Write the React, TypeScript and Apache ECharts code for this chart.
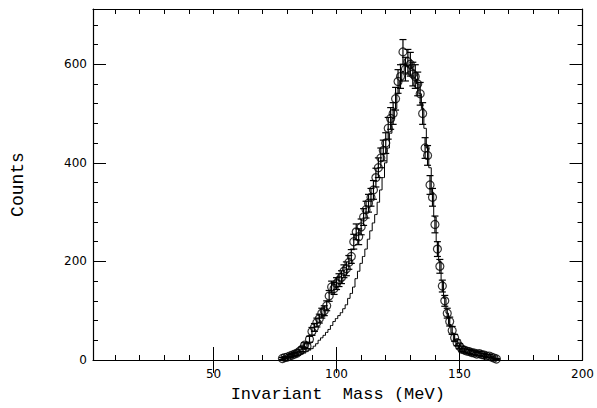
import React, { useEffect, useRef } from "react";
import * as echarts from "echarts";

// Invariant mass bin centres (MeV)
const mass = [
  78, 79, 80, 81, 82, 83, 84, 85, 86, 87,
  88, 89, 90, 91, 92, 93, 94, 95, 96, 97,
  98, 99, 100, 101, 102, 103, 104, 105, 106, 107,
  108, 109, 110, 111, 112, 113, 114, 115, 116, 117,
  118, 119, 120, 121, 122, 123, 124, 125, 126, 127,
  128, 129, 130, 131, 132, 133, 134, 135, 136, 137,
  138, 139, 140, 141, 142, 143, 144, 145, 146, 147,
  148, 149, 150, 151, 152, 153, 154, 155, 156, 157,
  158, 159, 160, 161, 162, 163, 164, 165,
];

// Measured counts (open circles)
const counts = [
  3, 5, 6, 8, 10, 12, 14, 18, 22, 30,
  28, 42, 58, 66, 76, 84, 95, 100, 110, 130,
  148, 145, 155, 162, 168, 180, 185, 198, 210, 240,
  260, 250, 270, 290, 305, 318, 330, 345, 370, 390,
  410, 425, 440, 470, 490, 500, 530, 565, 575, 625,
  590, 605, 600, 580, 575, 560, 540, 500, 430, 415,
  355, 330, 275, 225, 190, 150, 120, 95, 78, 60,
  45, 35, 28, 22, 20, 18, 17, 15, 14, 12,
  13, 11, 10, 8, 8, 6, 4, 2,
];

// Error bar half-lengths
const errors = [
  2, 2, 2, 3, 3, 3, 4, 4, 5, 5,
  5, 6, 8, 8, 9, 9, 10, 10, 10, 11,
  12, 12, 12, 13, 13, 13, 14, 14, 14, 15,
  16, 16, 16, 17, 17, 18, 18, 19, 19, 20,
  20, 21, 21, 22, 22, 22, 23, 24, 24, 25,
  24, 25, 24, 24, 24, 24, 23, 22, 21, 20,
  19, 18, 17, 15, 14, 12, 11, 10, 9, 8,
  7, 6, 5, 5, 4, 4, 4, 4, 4, 3,
  4, 3, 3, 3, 3, 2, 2, 1,
];

// Simulated histogram (step line)
const simulated = [
  2, 3, 4, 5, 6, 7, 8, 10, 12, 14,
  17, 20, 23, 28, 33, 40, 45, 50, 56, 62,
  70, 78, 84, 90, 96, 104, 112, 125, 135, 148,
  165, 180, 196, 210, 225, 245, 262, 278, 295, 320,
  345, 370, 400, 430, 460, 490, 510, 540, 565, 585,
  600, 595, 600, 590, 570, 560, 540, 510, 470, 430,
  390, 340, 290, 240, 200, 160, 125, 95, 72, 55,
  40, 30, 24, 20, 17, 15, 13, 12, 11, 10,
  9, 8, 7, 6, 5, 4, 3, 2,
];

const xMinorTicks = [10, 20, 30, 40, 50, 60, 70, 80, 90, 100, 110, 120, 130, 140, 150, 160, 170, 180, 190];
const xMajorTicks = [50, 100, 150];
const xLabels = [50, 100, 150, 200];
const yMinorTicks = [40, 80, 120, 160, 200, 240, 280, 320, 360, 400, 440, 480, 520, 560, 600, 640, 680];
const yMajorTicks = [200, 400, 600];
const yLabels = [0, 200, 400, 600];

const X_MIN = 1;
const X_MAX = 200;
const Y_MIN = 0;
const Y_MAX = 712;

export default function App() {
  const ref = useRef<HTMLDivElement>(null);

  useEffect(() => {
    if (!ref.current) return;
    const chart = echarts.init(ref.current, null, { renderer: "svg" });
    const black = "#000";
    const labelFont = { color: black, fontFamily: "DejaVu Sans", fontSize: 12 };
    const titleFont = { color: black, fontFamily: "Liberation Mono", fontSize: 17 };

    const xBase = { type: "value", min: X_MIN, max: X_MAX, splitLine: { show: false } };
    const yBase = { type: "value", min: Y_MIN, max: Y_MAX, splitLine: { show: false } };

    const xAxes: any[] = [
      {
        ...xBase,
        position: "bottom",
        axisLine: { show: true, onZero: false, lineStyle: { color: black, width: 1.2 } },
        axisTick: { show: true, inside: true, length: 5, customValues: xMinorTicks, lineStyle: { color: black } },
        axisLabel: { show: true, customValues: xLabels, margin: 8, ...labelFont },
        name: "Invariant  Mass (MeV)",
        nameLocation: "middle",
        nameGap: 26,
        nameTextStyle: titleFont,
      },
      {
        ...xBase,
        position: "bottom",
        axisLine: { show: false },
        axisTick: { show: true, inside: true, length: 13, customValues: xMajorTicks, lineStyle: { color: black } },
        axisLabel: { show: false },
      },
      {
        ...xBase,
        position: "top",
        axisLine: { show: true, onZero: false, lineStyle: { color: black, width: 1.2 } },
        axisTick: { show: true, inside: true, length: 5, customValues: xMinorTicks, lineStyle: { color: black } },
        axisLabel: { show: false },
      },
      {
        ...xBase,
        position: "top",
        axisLine: { show: false },
        axisTick: { show: true, inside: true, length: 13, customValues: xMajorTicks, lineStyle: { color: black } },
        axisLabel: { show: false },
      },
    ];

    const yAxes: any[] = [
      {
        ...yBase,
        position: "left",
        axisLine: { show: true, onZero: false, lineStyle: { color: black, width: 1.2 } },
        axisTick: { show: true, inside: true, length: 5, customValues: yMinorTicks, lineStyle: { color: black } },
        axisLabel: { show: true, customValues: yLabels, margin: 6, ...labelFont },
        name: "Counts",
        nameLocation: "middle",
        nameGap: 66,
        nameRotate: 90,
        nameTextStyle: { ...titleFont, fontSize: 18 },
      },
      {
        ...yBase,
        position: "left",
        axisLine: { show: false },
        axisTick: { show: true, inside: true, length: 13, customValues: yMajorTicks, lineStyle: { color: black } },
        axisLabel: { show: false },
      },
      {
        ...yBase,
        position: "right",
        axisLine: { show: true, onZero: false, lineStyle: { color: black, width: 1.2 } },
        axisTick: { show: true, inside: true, length: 5, customValues: yMinorTicks, lineStyle: { color: black } },
        axisLabel: { show: false },
      },
      {
        ...yBase,
        position: "right",
        axisLine: { show: false },
        axisTick: { show: true, inside: true, length: 13, customValues: yMajorTicks, lineStyle: { color: black } },
        axisLabel: { show: false },
      },
    ];

    const pointData = mass.map((m, i) => [m, counts[i]]);
    const errData = mass.map((m, i) => [m, counts[i], errors[i]]);
    const histData = mass.map((m, i) => [m, simulated[i]]);

    chart.setOption({
      animation: false,
      backgroundColor: "#fff",
      grid: { left: 93, top: 9, width: 491, height: 351, containLabel: false },
      xAxis: xAxes,
      yAxis: yAxes,
      series: [
        {
          type: "line",
          name: "simulation",
          data: histData,
          step: "middle",
          showSymbol: false,
          symbol: "none",
          lineStyle: { color: black, width: 1 },
          xAxisIndex: 0,
          yAxisIndex: 0,
          z: 2,
        },
        {
          type: "custom",
          name: "errors",
          data: errData,
          xAxisIndex: 0,
          yAxisIndex: 0,
          renderItem: (params: any, api: any) => {
            const x = api.value(0);
            const y = api.value(1);
            const e = api.value(2);
            const top = api.coord([x, y + e]);
            const bot = api.coord([x, Math.max(0, y - e)]);
            const cap = 3.5;
            const style = { stroke: black, lineWidth: 1.2 };
            return {
              type: "group",
              children: [
                { type: "line", shape: { x1: top[0], y1: top[1], x2: bot[0], y2: bot[1] }, style },
                { type: "line", shape: { x1: top[0] - cap, y1: top[1], x2: top[0] + cap, y2: top[1] }, style },
                { type: "line", shape: { x1: bot[0] - cap, y1: bot[1], x2: bot[0] + cap, y2: bot[1] }, style },
              ],
            };
          },
          z: 3,
        },
        {
          type: "scatter",
          name: "data",
          data: pointData,
          symbol: "circle",
          symbolSize: 8,
          itemStyle: { color: "rgba(255,255,255,0)", borderColor: black, borderWidth: 1.2 },
          xAxisIndex: 0,
          yAxisIndex: 0,
          z: 4,
        },
      ],
    });
    return () => chart.dispose();
  }, []);

  return <div ref={ref} style={{ width: 597, height: 408, position: "absolute", left: 0, top: 0 }} />;
}
